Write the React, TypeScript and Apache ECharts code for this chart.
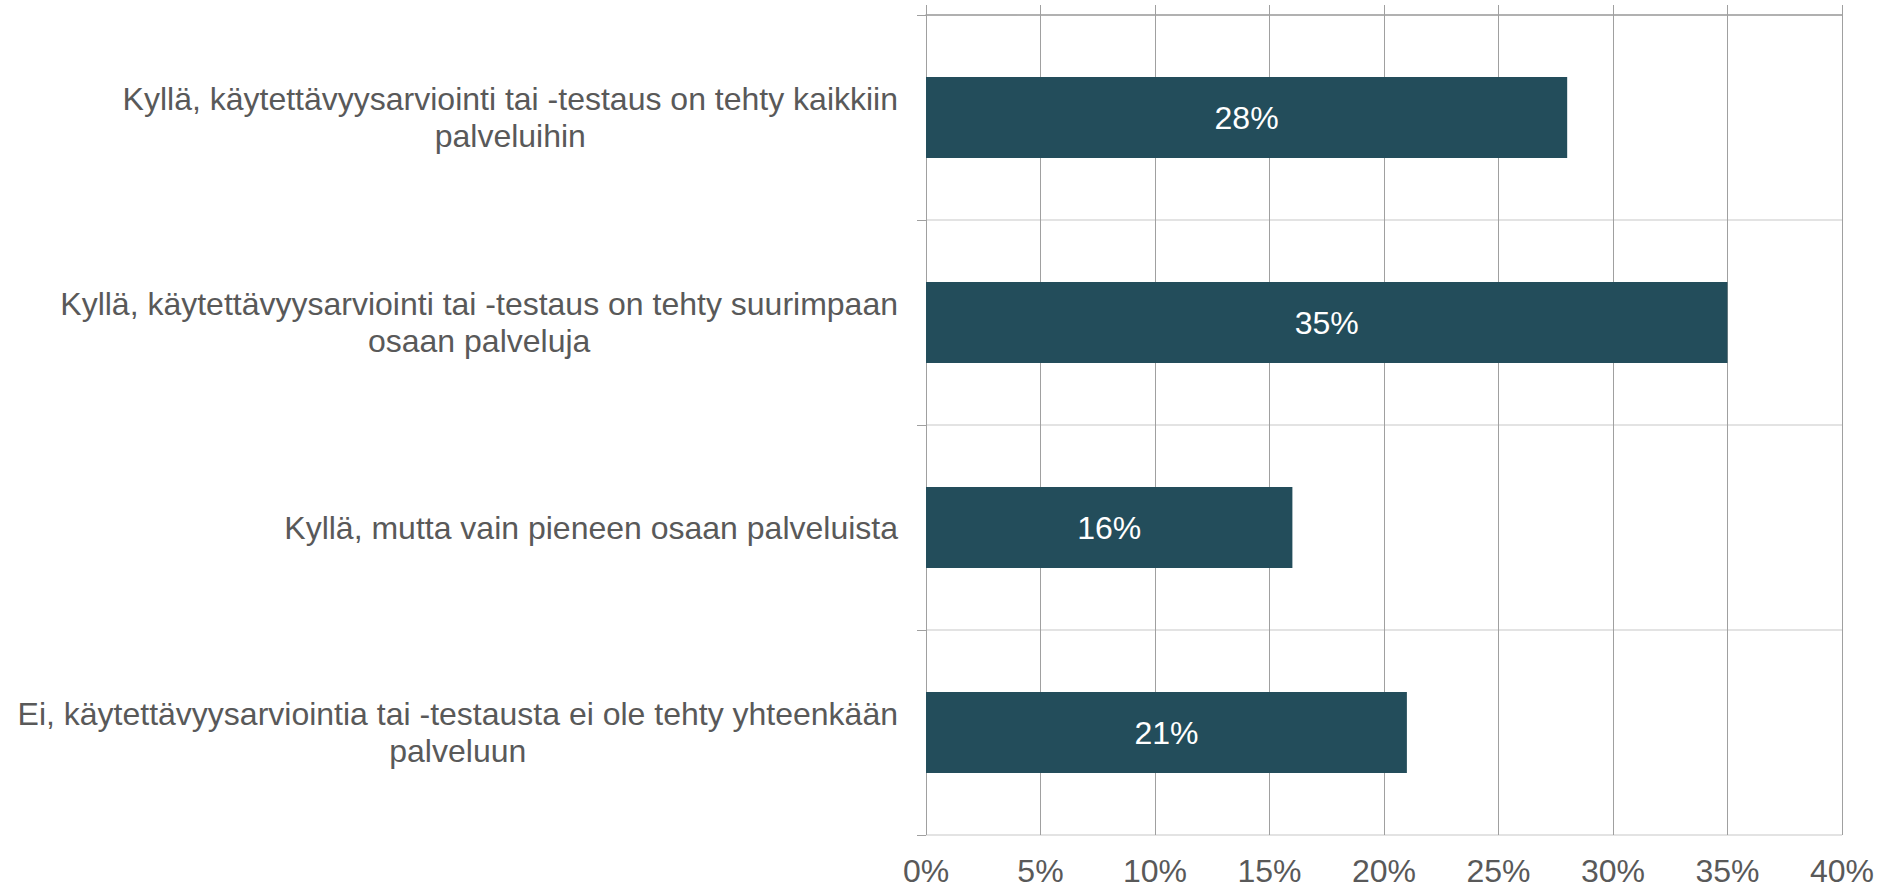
import React, { useEffect, useRef } from "react";
import * as echarts from "echarts";

const categories: string[] = [
  "Kyllä, käytettävyysarviointi tai -testaus on tehty kaikkiin\npalveluihin",
  "Kyllä, käytettävyysarviointi tai -testaus on tehty suurimpaan\nosaan palveluja",
  "Kyllä, mutta vain pieneen osaan palveluista",
  "Ei, käytettävyysarviointia tai -testausta ei ole tehty yhteenkään\npalveluun",
];
const values: number[] = [28, 35, 16, 21];
const axisMin = 0;
const axisMax = 40;
const axisStep = 5;

const FONT = "'Liberation Sans', Arial, Helvetica, sans-serif";
const FS = 32;

export default function App() {
  const ref = useRef<HTMLDivElement>(null);
  useEffect(() => {
    document.body.style.margin = "0";
    if (!ref.current) return;
    const chart = echarts.init(ref.current, null, { renderer: "svg" });
    chart.setOption({
      animation: false,
      backgroundColor: "#ffffff",
      grid: { left: 926, right: 34, top: 15, bottom: 53, containLabel: false },
      xAxis: [
        {
          type: "value",
          min: axisMin,
          max: axisMax,
          interval: axisStep,
          position: "bottom",
          axisLine: { show: false },
          axisTick: { show: false },
          splitLine: { show: true, lineStyle: { color: "#a0a0a0", width: 1 } },
          axisLabel: {
            formatter: "{value}%",
            color: "#595959",
            fontSize: FS,
            fontFamily: FONT,
            lineHeight: 26,
            margin: 23,
          },
        },
        {
          type: "value",
          min: axisMin,
          max: axisMax,
          interval: axisStep,
          position: "top",
          axisLine: { show: true, lineStyle: { color: "#a0a0a0", width: 1.5 } },
          axisTick: { show: true, inside: false, length: 10, lineStyle: { color: "#a0a0a0", width: 1 } },
          splitLine: { show: false },
          axisLabel: { show: false },
        },
      ],
      yAxis: {
        type: "category",
        inverse: true,
        data: categories,
        axisLine: { show: false },
        axisTick: { show: true, length: 9, lineStyle: { color: "#a0a0a0" } },
        splitLine: { show: true, lineStyle: { color: "#e3e3e3", width: 2 } },
        axisLabel: {
          margin: 28,
          color: "#595959",
          fontSize: FS,
          fontFamily: FONT,
          lineHeight: 37,
          formatter: (v: string) =>
            v
              .split("\n")
              .map((line) => `{c|${line}}`)
              .join("\n"),
          rich: {
            c: {
              align: "center",
              color: "#595959",
              fontSize: FS,
              fontFamily: FONT,
              lineHeight: 37,
            },
          },
        },
      },
      series: [
        {
          type: "bar",
          data: values,
          barWidth: 81,
          itemStyle: { color: "#234d5b" },
          label: {
            show: true,
            position: "inside",
            formatter: "{c}%",
            color: "#ffffff",
            fontSize: FS,
            fontFamily: FONT,
          },
        },
      ],
    });
    return () => chart.dispose();
  }, []);
  return <div ref={ref} style={{ width: 1877, height: 888 }} />;
}
